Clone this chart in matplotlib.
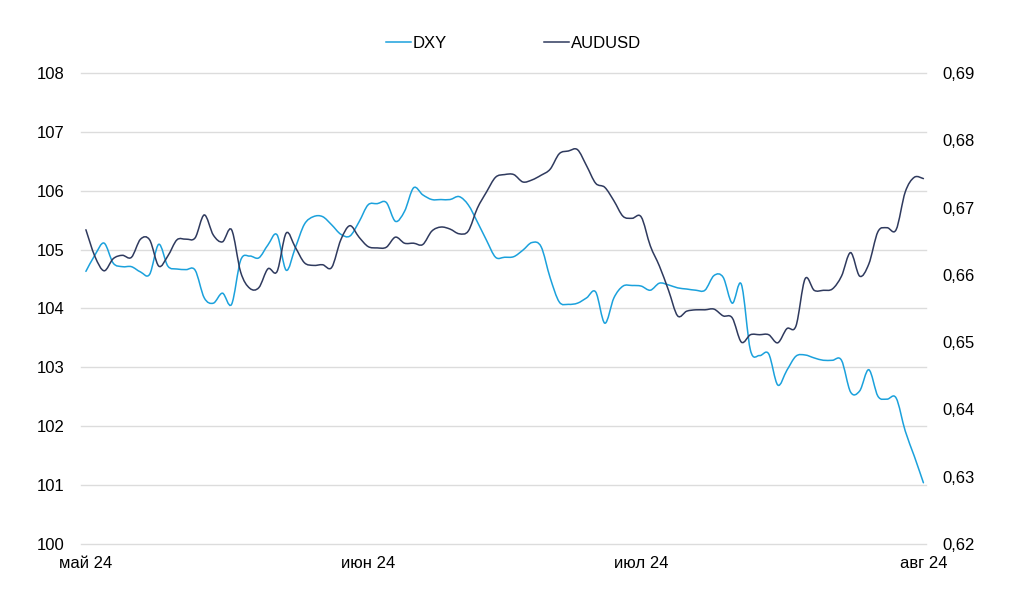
import numpy as np
import pandas as pd
import matplotlib
matplotlib.use("Agg")
import matplotlib.pyplot as plt
import matplotlib.dates as mdates
from matplotlib.path import Path
from matplotlib.patches import PathPatch
from matplotlib.lines import Line2D
from matplotlib.ticker import FuncFormatter

plt.rcParams['font.family'] = ['Liberation Sans', 'DejaVu Sans']

# daily series, 1 May 2024 .. 1 Aug 2024
dates = pd.date_range('2024-05-01', '2024-08-01', freq='D')

dxy = [104.63, 104.91, 105.11, 104.77, 104.71, 104.71, 104.62, 104.58, 105.09, 104.72,
       104.67, 104.66, 104.65, 104.18, 104.09, 104.26, 104.07, 104.82, 104.89, 104.86,
       105.08, 105.25, 104.65, 105.03, 105.43, 105.56, 105.56, 105.42, 105.26, 105.23,
       105.47, 105.76, 105.78, 105.80, 105.48, 105.65, 106.05, 105.93, 105.85, 105.85,
       105.85, 105.90, 105.76, 105.47, 105.16, 104.87, 104.87, 104.88, 104.99, 105.12,
       105.05, 104.52, 104.11, 104.07, 104.09, 104.18, 104.28, 103.75, 104.18, 104.38,
       104.39, 104.38, 104.31, 104.43, 104.40, 104.35, 104.33, 104.31, 104.31, 104.56,
       104.53, 104.09, 104.41, 103.29, 103.20, 103.23, 102.70, 102.95, 103.19, 103.21,
       103.16, 103.12, 103.12, 103.12, 102.58, 102.60, 102.96, 102.51, 102.46, 102.48,
       101.92, 101.49, 101.04]

audusd = [0.6667, 0.6627, 0.6606, 0.6624, 0.6629, 0.6626, 0.6653, 0.6652, 0.6613, 0.6628,
          0.6652, 0.6653, 0.6655, 0.6689, 0.6659, 0.6649, 0.6667, 0.6604, 0.6580, 0.6581,
          0.6609, 0.6605, 0.6662, 0.6641, 0.6618, 0.6614, 0.6615, 0.6611, 0.6652, 0.6673,
          0.6656, 0.6642, 0.6640, 0.6641, 0.6656, 0.6647, 0.6647, 0.6645, 0.6665, 0.6671,
          0.6668, 0.6661, 0.6665, 0.6699, 0.6723, 0.6745, 0.6749, 0.6749, 0.6738, 0.6741,
          0.6748, 0.6757, 0.6780, 0.6784, 0.6786, 0.6762, 0.6736, 0.6730, 0.6710, 0.6687,
          0.6684, 0.6686, 0.6643, 0.6613, 0.6577, 0.6539, 0.6546, 0.6548, 0.6548, 0.6549,
          0.6539, 0.6536, 0.6500, 0.6511, 0.6511, 0.6511, 0.6499, 0.6520, 0.6524, 0.6594,
          0.6577, 0.6577, 0.6579, 0.6598, 0.6633, 0.6598, 0.6616, 0.6664, 0.6670, 0.6667,
          0.6723, 0.6745, 0.6743]

month_ticks = ['2024-05-01', '2024-06-01', '2024-07-01', '2024-08-01']
month_labels = ['май 24', 'июн 24', 'июл 24', 'авг 24']

c_dxy = '#1ba1dc'
c_aud = '#2f3a5e'


# smoothed line like the spreadsheet's "smoothed line" option
def smooth_path(x, y):
    n = len(x)
    verts = [(x[0], y[0])]
    codes = [Path.MOVETO]
    for i in range(n - 1):
        a = i - 1 if i > 0 else i
        b = i + 2 if i + 2 < n else i + 1
        c1 = (x[i] + (x[i + 1] - x[a]) / 6, y[i] + (y[i + 1] - y[a]) / 6)
        c2 = (x[i + 1] - (x[b] - x[i]) / 6, y[i + 1] - (y[b] - y[i]) / 6)
        verts += [c1, c2, (x[i + 1], y[i + 1])]
        codes += [Path.CURVE4] * 3
    return Path(verts, codes)


xs = mdates.date2num(dates.to_pydatetime())

fig = plt.figure(figsize=(10.24, 5.97), dpi=100)
ax = fig.add_axes([0.079, 0.0888, 0.825, 0.789])
ax2 = ax.twinx()

ax.add_patch(PathPatch(smooth_path(xs, np.array(dxy)), fill=False,
                       edgecolor=c_dxy, lw=1.1, capstyle='round'))
ax2.add_patch(PathPatch(smooth_path(xs, np.array(audusd)), fill=False,
                        edgecolor=c_aud, lw=1.1, capstyle='round'))

ax.set_xlim(xs[0] - 0.55, xs[-1] + 0.25)
ax.set_ylim(100, 108)
ax.set_yticks(range(100, 109))
ax2.set_ylim(0.62, 0.69)
ax2.set_yticks(np.arange(0.62, 0.6901, 0.01))
ax2.yaxis.set_major_formatter(FuncFormatter(lambda v, p: f'{v:.2f}'.replace('.', ',')))

ax.set_xticks(mdates.date2num(pd.to_datetime(month_ticks).to_pydatetime()))
ax.set_xticklabels(month_labels)

ax.grid(axis='y', color='#dcdcdc', lw=1)
ax.set_axisbelow(True)
for gl in ax.get_ygridlines():
    gl.set_clip_on(False)
for a in (ax, ax2):
    for s in a.spines.values():
        s.set_visible(False)
    a.tick_params(length=0, labelsize=12, colors='black')
ax.tick_params(axis='y', pad=12)
ax.tick_params(axis='x', pad=9)
ax2.tick_params(axis='y', pad=12)

handles = [Line2D([], [], color=c_dxy, lw=1.1), Line2D([], [], color=c_aud, lw=1.1)]
fig.legend(handles, ['DXY', 'AUDUSD'], loc='center', bbox_to_anchor=(0.5015, 0.927),
           ncol=2, frameon=False, fontsize=12, handlelength=1.5, handletextpad=0.15,
           columnspacing=5.8)

fig.savefig('out.png', dpi=100)
